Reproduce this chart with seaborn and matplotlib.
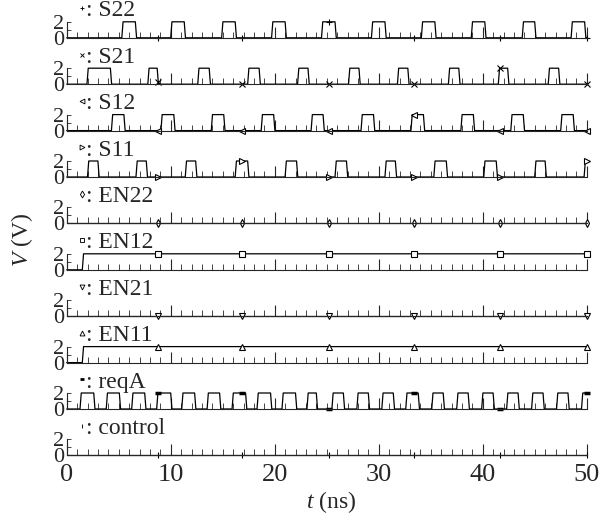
import numpy as np
import pandas as pd
import seaborn as sns
import matplotlib.pyplot as plt

# signal names (top to bottom) and their markers
names = ["S22", "S21", "S12", "S11", "EN22", "EN12", "EN21", "EN11", "reqA", "control"]
markers = ["+", "x", "<", ">", "d", "s", "v", "^", "_", "|"]

# pulse rising / falling times in ns
s22_on = [5.3, 10.0, 14.9, 19.7, 24.5, 29.3, 34.1, 38.9, 43.8, 48.5]
s22_off = [6.6, 11.3, 16.2, 21.0, 25.8, 30.6, 35.4, 40.2, 45.0, 49.8]
s21_on = [1.95, 7.8, 12.6, 17.4, 22.2, 27.1, 31.8, 36.7, 41.5, 46.3]
s21_off = [4.2, 8.7, 13.7, 18.5, 23.2, 28.1, 32.8, 37.7, 42.4, 47.3]
s12_on = [4.3, 9.06, 13.9, 18.7, 23.5, 28.3, 33.1, 37.9, 42.7, 47.5]
s12_off = [5.5, 10.3, 15.1, 19.9, 24.65, 29.5, 34.3, 39.1, 43.9, 48.7]
s11_on = [2.0, 6.66, 11.4, 16.2, 21.0, 25.8, 30.6, 35.3, 40.1, 45.0, 49.75]
s11_off = [3.0, 7.65, 12.4, 17.4, 22.1, 26.9, 31.6, 36.5, 41.3, 46.0, 50.0]
en22_on, en22_off = [], []
en12_on, en12_off = [1.5], [50.0]
en21_on, en21_off = [], []
en11_on, en11_off = [1.5], [50.0]
reqa_on = [1.28, 3.8, 6.25, 8.65, 11.06, 13.5, 15.9, 18.3, 20.7, 23.1, 25.5,
           27.9, 30.3, 32.6, 35.1, 37.5, 39.9, 42.3, 44.7, 47.1, 49.5]
reqa_off = [2.6, 5.06, 7.5, 10.0, 12.3, 14.7, 17.2, 19.6, 22.0, 24.0, 26.6,
            29.0, 31.4, 33.8, 36.2, 38.6, 41.0, 43.4, 45.8, 48.2, 50.0]
control_on, control_off = [], []

# sample times where the markers sit
mark_t = [8.8, 16.9, 25.2, 33.4, 41.7, 50.0]

pulses = [(s22_on, s22_off), (s21_on, s21_off), (s12_on, s12_off), (s11_on, s11_off),
          (en22_on, en22_off), (en12_on, en12_off), (en21_on, en21_off),
          (en11_on, en11_off), (reqa_on, reqa_off), (control_on, control_off)]

T_END = 50.0
HIGH = 2.0
RISE = 0.12


def waveform(on, off):
    x, y = [0.0], [0.0]
    for s, e in zip(on, off):
        x += [s, s + RISE]
        y += [0.0, HIGH]
        if e >= T_END:
            x.append(T_END)
            y.append(HIGH)
            break
        x += [e, e + RISE]
        y += [HIGH, 0.0]
    if x[-1] < T_END:
        x.append(T_END)
        y.append(0.0)
    return pd.DataFrame({"t": x, "v": y})


sns.set_style("ticks")
plt.rcParams["font.family"] = ["Liberation Serif", "DejaVu Serif"]
plt.rcParams["mathtext.fontset"] = "custom"
plt.rcParams["mathtext.it"] = "Liberation Serif:italic"
plt.rcParams["mathtext.rm"] = "Liberation Serif"

W, H = 599, 517
fig = plt.figure(figsize=(W / 100, H / 100), dpi=100)

x0, x1 = 66.7, 586.7
row_h = 46.4
px_per_unit = 8.0
ymin = -0.3
ymax = ymin + row_h / px_per_unit

for i, (name, mk, (on, off)) in enumerate(zip(names, markers, pulses)):
    base = 37.8 + row_h * i
    bottom_px = base - ymin * px_per_unit
    ax = fig.add_axes([x0 / W, 1 - bottom_px / H, (x1 - x0) / W, row_h / H])
    ax.patch.set_alpha(0)

    df = waveform(on, off)
    sns.lineplot(data=df, x="t", y="v", ax=ax, color="black", lw=0.9,
                 estimator=None, sort=False, clip_on=False)
    mv = np.interp(mark_t, df["t"], df["v"])
    mew = 2.5 if mk == "_" else 0.8
    ax.plot(mark_t, mv, ls="none", marker=mk, ms=4, mfc="white", mec="black",
            mew=mew, clip_on=False)

    # label marker and signal name
    ax.plot([1.45], [3.7], ls="none", marker=mk, ms=3.5, mfc="white", mec="black",
            mew=mew * 0.8, clip_on=False)
    ax.text(1.9, 3.35, ": " + name, fontsize=17, va="center", ha="left")

    ax.set_xlim(0, 50)
    ax.set_ylim(ymin, ymax)
    ax.set_yticks([0, 2])
    ax.set_yticks([1], minor=True)
    ax.set_xticks(range(0, 51, 10))
    ax.set_xticks(range(0, 51, 1), minor=True)
    ax.tick_params(axis="both", which="major", direction="in", labelsize=16, pad=2)
    ax.tick_params(axis="x", which="major", length=8, width=0.8)
    ax.tick_params(axis="x", which="minor", direction="in", length=4, width=0.6)
    ax.tick_params(axis="y", which="major", length=3, width=0.6)
    ax.tick_params(axis="y", which="minor", direction="in", length=3, width=0.6)
    ax.spines["left"].set_bounds(0, 2)
    ax.spines["bottom"].set_position(("data", 0))
    for s in ["top", "right"]:
        ax.spines[s].set_visible(False)
    ax.set_xlabel("")
    ax.set_ylabel("")
    if i < len(names) - 1:
        ax.tick_params(axis="x", labelbottom=False)
    else:
        ax.tick_params(axis="x", labelsize=19, pad=6)

fig.text(22 / W, 1 - 240 / H, "$V$ (V)", rotation=90, fontsize=17,
         ha="center", va="center")
fig.text(331 / W, 1 - 502 / H, "$t$ (ns)", fontsize=17, ha="center", va="center")

fig.savefig("out.png", dpi=100)
